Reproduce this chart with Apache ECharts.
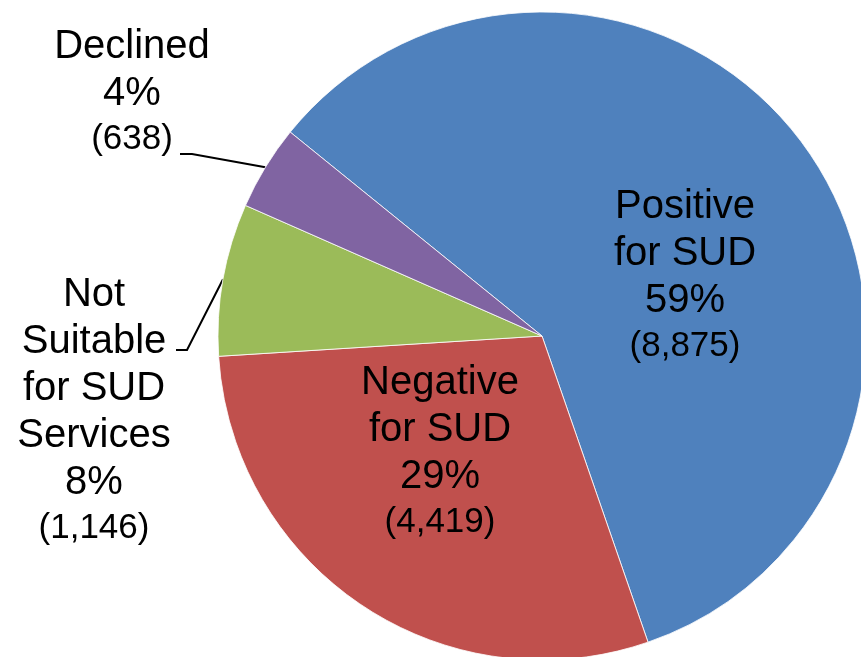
<!DOCTYPE html>
<html>
<head>
<meta charset="utf-8">
<script src="https://cdn.jsdelivr.net/npm/echarts@6/dist/echarts.min.js"></script>
<style>
  html, body { margin: 0; padding: 0; background: #fff; }
  #main { width: 861px; height: 657px; }
</style>
</head>
<body>
<div id="main"></div>
<script>
var app = echarts.init(document.getElementById('main'));

var names = ['Positive\nfor SUD', 'Negative\nfor SUD', 'Not\nSuitable\nfor SUD\nServices', 'Declined'];
var counts = [8875, 4419, 1146, 638];
var colors = ['#4F81BD', '#C0504D', '#9BBB59', '#8064A2'];

// where each label block sits (centre), plus the leader line bends
var labelPos = [[685, 276], [440, 452], [94, 411], [132, 92]];
var bends = {2: [[187, 350], [176, 350]], 3: [[192, 154], [180, 154]]};

function fmt(p) {
  return '{n|' + p.name + '}\n{n|' + Math.round(p.percent) + '%}\n{c|(' + p.value.toLocaleString('en-US') + ')}';
}

var option = {
  animation: false,
  series: [{
    type: 'pie',
    center: [542, 336],
    radius: 324,
    startAngle: 141,
    clockwise: true,
    avoidLabelOverlap: false,
    itemStyle: { borderColor: 'rgba(255,255,255,0.8)', borderWidth: 1 },
    label: {
      color: '#000',
      fontFamily: '"Liberation Sans", Arial, sans-serif',
      formatter: fmt,
      rich: {
        n: { fontSize: 40, lineHeight: 47, color: '#000', fontFamily: '"Liberation Sans", Arial, sans-serif' },
        c: { fontSize: 35, lineHeight: 44, color: '#000', fontFamily: '"Liberation Sans", Arial, sans-serif' }
      }
    },
    labelLine: { show: true, lineStyle: { color: '#000', width: 2 }, length: 10, length2: 10 },
    labelLayout: function (params) {
      var i = params.dataIndex;
      var out = { x: labelPos[i][0], y: labelPos[i][1], align: 'center', verticalAlign: 'middle' };
      if (bends[i] && params.labelLinePoints) {
        out.labelLinePoints = [params.labelLinePoints[0], bends[i][0], bends[i][1]];
      }
      return out;
    },
    data: names.map(function (n, i) {
      var inside = i < 2;
      return {
        name: n,
        value: counts[i],
        itemStyle: { color: colors[i] },
        label: { position: inside ? 'inside' : 'outside' },
        labelLine: { show: !inside }
      };
    })
  }]
};

app.setOption(option);
</script>
</body>
</html>
